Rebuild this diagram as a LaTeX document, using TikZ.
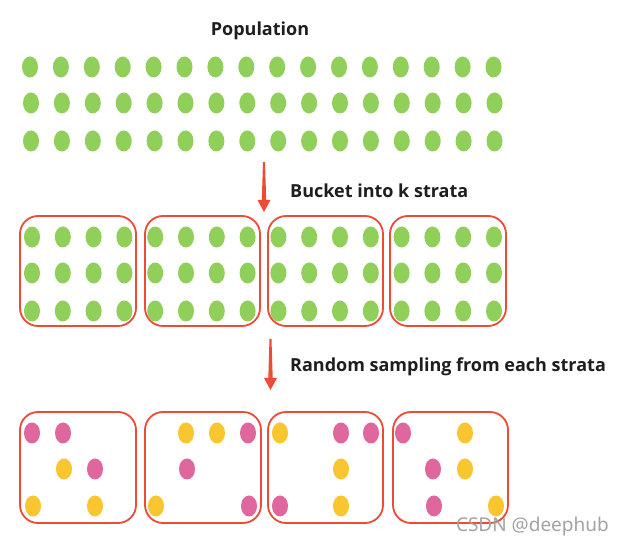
\documentclass[tikz,border=0pt]{standalone}
\usepackage{fontspec}
\setmainfont{Open Sans}
\newfontfamily\wmfont{Noto Sans}
\usetikzlibrary{calc}
\definecolor{dotgreen}{HTML}{8FCF5A}
\definecolor{dotpink}{HTML}{E0669E}
\definecolor{dotyellow}{HTML}{F9C62F}
\definecolor{boxred}{HTML}{EE4B37}
\definecolor{txtblack}{HTML}{1E1E1E}
\definecolor{wmgray}{HTML}{A3A3A3}
\begin{document}
\begin{tikzpicture}[x=1pt,y=-1pt,
  title/.style={font=\bfseries\fontsize{18}{22}\selectfont, text=txtblack, inner sep=0pt},
  stratbox/.style={draw=boxred, line width=1.8pt, rounded corners=18pt, inner sep=0pt},
  arrowfill/.style={fill=boxred},
  gdot/.style={fill=dotgreen},
  pdot/.style={fill=dotpink},
  ydot/.style={fill=dotyellow}]
\useasboundingbox (0,0) rectangle (625,548);
\fill[white] (0,0) rectangle (625,548);

% Population
\node[title] (pop) at (260,31) {Population};
\foreach \y/\dx in {67/0,103/1,141/1}
  \foreach \i in {0,...,15}
    \fill[gdot] ({30+\dx+\i*30.9},\y) ellipse (8pt and 10.5pt);

% arrow 1 and label
\coordinate (a1s) at (264,162);
\coordinate (a1e) at (264,212);
\fill[arrowfill] ($(a1s)+(-1,0)$) -- ($(a1s)+(1,0)$) -- ($(a1e)+(2.2,-12)$) -- ($(a1e)+(6.5,-12)$)
  -- (a1e) -- ($(a1e)+(-6.5,-12)$) -- ($(a1e)+(-2.2,-12)$) -- cycle;
\node[title, anchor=west] (lab1) at (290,191) {Bucket into k strata};

% strata boxes
\node[stratbox, minimum width=116pt, minimum height=110pt] (b1) at (78,271) {};
\node[stratbox, minimum width=115pt, minimum height=110pt] (b2) at (202.5,271) {};
\node[stratbox, minimum width=115pt, minimum height=110pt] (b3) at (325.5,271) {};
\node[stratbox, minimum width=116pt, minimum height=110pt] (b4) at (448,271) {};
\foreach \y in {237,273,311}
  \foreach \i in {0,...,15}
    \fill[gdot] ({32+\i*30.8},\y) ellipse (8pt and 10.5pt);

% arrow 2 and label
\coordinate (a2s) at (270.5,339);
\coordinate (a2e) at (270.5,390);
\fill[arrowfill] ($(a2s)+(-1,0)$) -- ($(a2s)+(1,0)$) -- ($(a2e)+(2.2,-12)$) -- ($(a2e)+(6.5,-12)$)
  -- (a2e) -- ($(a2e)+(-6.5,-12)$) -- ($(a2e)+(-2.2,-12)$) -- cycle;
\node[title, anchor=west] (lab2) at (290,367) {Random sampling from each strata};

% sample boxes
\node[stratbox, minimum width=116pt, minimum height=111pt] (c1) at (78,467.5) {};
\node[stratbox, minimum width=116pt, minimum height=111pt] (c2) at (203,467.5) {};
\node[stratbox, minimum width=115pt, minimum height=111pt] (c3) at (325.5,467.5) {};
\node[stratbox, minimum width=115pt, minimum height=111pt] (c4) at (450.5,467.5) {};

% sampled dots
\foreach \x/\y/\s in {
  32/433/pdot, 63/433/pdot, 64/469/ydot, 95/469/pdot, 33/506/ydot, 95/506/ydot,
  186/433/ydot, 217/433/ydot, 248/433/pdot, 187/469/pdot, 156/506/ydot, 249/506/pdot,
  280/433/ydot, 341/433/pdot, 371/433/pdot, 341/469/ydot, 280/506/pdot, 341/506/ydot,
  403/433/pdot, 465/433/ydot, 433/469/pdot, 465/469/ydot, 434/506/pdot, 496/506/ydot}
  \fill[\s] (\x,\y) ellipse (8pt and 10.5pt);

% watermark
\node[font=\wmfont\fontsize{19}{22}\selectfont, text=wmgray, anchor=east, inner sep=0pt] (wm) at (609,527) {CSDN @deephub};
\end{tikzpicture}
\end{document}
